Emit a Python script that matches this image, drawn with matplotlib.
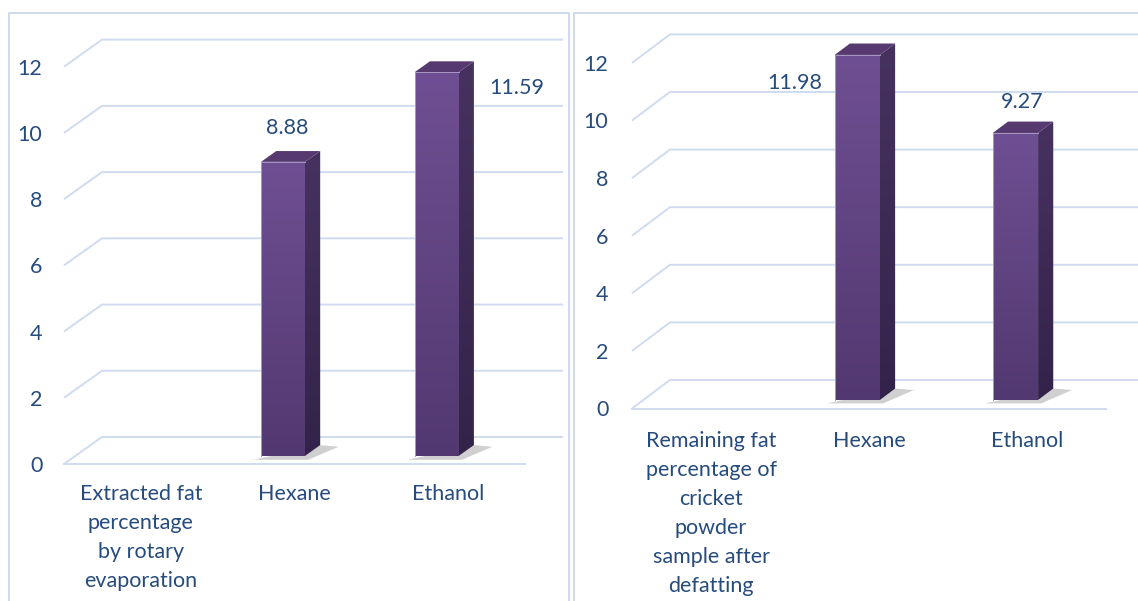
import numpy as np
import matplotlib
matplotlib.use('Agg')
import matplotlib.pyplot as plt
from matplotlib.patches import Polygon
from matplotlib.lines import Line2D
from matplotlib.colors import to_rgb

plt.rcParams['font.family'] = ['Lato', 'DejaVu Sans']

# data
left_categories = ['Extracted fat\npercentage\nby rotary\nevaporation', 'Hexane', 'Ethanol']
left_values = [np.nan, 8.88, 11.59]
right_categories = ['Remaining fat\npercentage of\ncricket\npowder\nsample after\ndefatting', 'Hexane', 'Ethanol']
right_values = [np.nan, 11.98, 9.27]
y_ticks = [0, 2, 4, 6, 8, 10, 12]

# colours
TEXT = '#264B7D'
GRID = '#CFDCEF'
BORDER = '#C9D8EE'
FRONT_TOP, FRONT_BOT = '#6F4F93', '#523870'
SIDE_TOP, SIDE_BOT = '#47325F', '#33234A'
TOP_FACE = '#55396F'

W, H = 1138, 601
fig = plt.figure(figsize=(W / 100, H / 100), dpi=100)


def axes_px(x0, x1, y_top, y_bot):
    return fig.add_axes([x0 / W, 1 - y_bot / H, (x1 - x0) / W, (y_bot - y_top) / H])


def grad_poly(ax, pts, c_top, c_bot, z):
    poly = Polygon(pts, closed=True, facecolor='none', edgecolor='none')
    ax.add_patch(poly)
    xs = [p[0] for p in pts]
    ys = [p[1] for p in pts]
    g = np.linspace(0, 1, 200)[:, None, None]
    img = np.array(to_rgb(c_top)) * (1 - g) + np.array(to_rgb(c_bot)) * g
    im = ax.imshow(img, extent=[min(xs), max(xs), min(ys), max(ys)], origin='upper',
                   aspect='auto', zorder=z, interpolation='bilinear')
    im.set_clip_path(poly)
    im.set_clip_on(True)


def draw_panel(ax, cats, vals, xmax, depth, label_pos, tick_pad, cat_pad):
    dx, dy = depth
    bw = 0.286
    shift = -0.075
    f0, f1 = 0.3, 0.7  # bar depth span (fraction from front)

    # grid walls
    for v in y_ticks:
        ax.plot([-0.5, -0.5 + dx, 2.5 + dx], [v, v + dy, v + dy],
                color=GRID, lw=1.4, clip_on=False, zorder=1, solid_capstyle='butt')
    ax.plot([-0.5, 2.5], [0, 0], color=GRID, lw=1.4, clip_on=False, zorder=1)

    for i, v in enumerate(vals):
        if np.isnan(v):
            continue
        xl = i + shift - bw / 2
        xr = i + shift + bw / 2
        yb = f0 * dy
        yt = yb + v
        ox, oy = (f1 - f0) * dx, (f1 - f0) * dy
        # shadow
        sh = Polygon([(xl - 0.05, yb - 0.12), (xr + 0.02, yb - 0.12),
                      (xr + ox + 0.12, yb + oy - 0.05), (xr + ox, yb + oy)],
                     closed=True, facecolor='#7a7a7a', edgecolor='none', alpha=0.35, zorder=2)
        ax.add_patch(sh)
        # front face
        grad_poly(ax, [(xl, yb), (xr, yb), (xr, yt), (xl, yt)], FRONT_TOP, FRONT_BOT, 3)
        # side face
        grad_poly(ax, [(xr, yb), (xr + ox, yb + oy), (xr + ox, yt + oy), (xr, yt)],
                  SIDE_TOP, SIDE_BOT, 3)
        # top face
        ax.add_patch(Polygon([(xl, yt), (xr, yt), (xr + ox, yt + oy), (xl + ox, yt + oy)],
                             closed=True, facecolor=TOP_FACE, edgecolor='none', zorder=3))
        ax.plot([xl, xl, xr], [yb, yt, yt], color='#A898C4', lw=0.7, zorder=4)
        lx, ly = label_pos[i]
        ax.text(i + shift + lx, v + ly, f'{v:.2f}', ha='center', va='center',
                fontsize=15.5, color=TEXT, zorder=5)

    ax.set_xlim(-0.5, xmax)
    ax.set_ylim(0, 13.5)
    ax.set_xticks(range(len(cats)))
    ax.set_xticklabels(cats, fontsize=15.5, color=TEXT, linespacing=1.56, va='top')
    ax.set_yticks(y_ticks)
    ax.set_yticklabels([str(t) for t in y_ticks], fontsize=15.5, color=TEXT)
    ax.tick_params(axis='x', length=0, pad=cat_pad)
    ax.tick_params(axis='y', length=0, pad=tick_pad)
    for s in ax.spines.values():
        s.set_visible(False)
    ax.patch.set_visible(False)


# left panel
ax1 = axes_px(64, 562, 17, 464)
draw_panel(ax1, left_categories, left_values, 2.74, (0.247, 0.816),
           {1: (0.03, 1.27), 2: (0.52, -0.23)}, 15.5, 14.5)

# right panel
ax2 = axes_px(632, 1138, 408.5 - 13.5 * 28.8, 408.5)
draw_panel(ax2, right_categories, right_values, 2.70, (0.24, 0.99),
           {1: (-0.395, -0.68), 2: (0.045, 1.37)}, 17, 16.5)

# panel borders
for x0, x1 in [(9, 569), (574, 1150)]:
    xs = [x0 / W, x0 / W, x1 / W, x1 / W]
    ys = [0, 1 - 13 / H, 1 - 13 / H, 0]
    fig.add_artist(Line2D(xs, ys, transform=fig.transFigure, color=BORDER, lw=1.3))

fig.savefig('out.png', dpi=100)
